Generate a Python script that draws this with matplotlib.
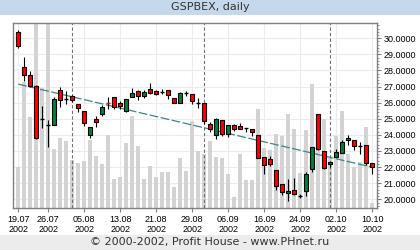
import matplotlib
matplotlib.use("Agg")
import matplotlib.pyplot as plt
from matplotlib.patches import Rectangle
from matplotlib.ticker import MultipleLocator
from matplotlib.transforms import blended_transform_factory

# ---------------- data ----------------
opens = [30.41, 28.24, 27.72, 27.04, 24.97, 24.62, 24.62, 26.79, 26.21, 26.42,
         25.92, 25.49, 24.00, 24.99, 25.30, 26.00, 26.34, 26.00, 25.51, 26.36,
         26.73, 26.42, 26.85, 26.73, 26.69, 26.79, 26.27, 25.96, 26.63, 26.56,
         26.00, 26.00, 24.66, 24.00, 24.93, 24.06, 24.62, 24.55, 24.41, 24.37,
         24.00, 22.63, 22.53, 21.82, 20.95, 20.37, 20.58, 20.21, 20.52, 21.88,
         25.30, 23.00, 22.19, 22.63, 22.90, 23.68, 23.68, 23.31, 23.37, 22.24]
highs = [30.50, 28.86, 27.97, 27.10, 25.82, 24.93, 26.38, 27.00, 26.73, 26.48,
         25.92, 25.49, 24.47, 25.20, 25.86, 26.38, 26.38, 26.13, 26.23, 26.94,
         26.79, 26.79, 27.25, 26.79, 26.83, 26.79, 26.27, 26.69, 26.75, 26.56,
         26.27, 26.00, 24.82, 25.03, 24.93, 24.62, 24.68, 24.76, 24.45, 24.37,
         24.00, 22.63, 22.69, 21.82, 20.95, 21.26, 21.30, 20.31, 21.68, 23.27,
         25.30, 23.00, 22.32, 23.10, 23.68, 24.00, 23.68, 23.54, 23.37, 22.24]
lows = [29.38, 27.35, 27.00, 23.75, 24.41, 23.23, 24.62, 25.76, 25.90, 26.02,
        25.40, 24.55, 23.80, 24.51, 25.18, 25.61, 25.61, 25.61, 25.45, 26.36,
        26.17, 26.31, 26.52, 26.45, 26.54, 26.21, 25.96, 25.96, 26.44, 25.94,
        25.69, 24.68, 24.20, 23.75, 23.95, 23.85, 24.27, 24.37, 24.16, 23.93,
        22.55, 21.55, 22.07, 20.58, 20.27, 19.90, 20.27, 20.10, 20.21, 21.68,
        23.06, 21.90, 22.03, 22.63, 22.90, 23.37, 23.06, 22.82, 22.13, 21.55]
closes = [29.52, 27.72, 27.04, 23.79, 24.97, 24.62, 26.23, 26.17, 26.21, 26.17,
          25.67, 24.72, 24.47, 24.82, 25.73, 25.98, 25.71, 25.80, 26.23, 26.63,
          26.44, 26.67, 26.60, 26.52, 26.69, 26.48, 25.96, 26.63, 26.63, 26.11,
          26.00, 24.89, 24.37, 24.97, 24.06, 24.62, 24.37, 24.37, 24.41, 24.16,
          22.59, 22.13, 22.17, 20.83, 20.46, 20.52, 20.31, 20.21, 21.55, 23.27,
          23.10, 21.93, 22.32, 22.96, 23.58, 23.83, 23.33, 23.31, 22.24, 22.01]
volumes = [41, 126, 91, 190, 120, 190, 59, 70, 67, 48,
           45, 47, 68, 52, 44, 73, 29, 31, 65, 92,
           62, 29, 42, 31, 36, 36, 21, 50, 37, 87,
           57, 54, 67, 51, 50, 34, 11, 54, 28, 28,
           99, 60, 58, 74, 72, 94, 79, 35, 78, 124,
           60, 89, 50, 72, 97, 54, 41, 46, 81, 5]
trend_values = [27.15, 21.99]          # regression line at first / last day
tick_days = [0, 5, 11, 17, 23, 29, 35, 41, 47, 53, 59]
tick_labels = ["19.07\n2002", "26.07\n2002", "05.08\n2002", "13.08\n2002",
               "21.08\n2002", "29.08\n2002", "06.09\n2002", "16.09\n2002",
               "24.09\n2002", "02.10\n2002", "10.10\n2002"]
month_starts = [9, 31, 52]
price_levels = list(range(20, 31))
title = "GSPBEX, daily"
footer = "© 2000-2002, Profit House - www.PHnet.ru"

# ---------------- figure ----------------
W, H = 420, 250
fig = plt.figure(figsize=(W / 100, H / 100), dpi=100)
fig.patch.set_facecolor("white")
fig.patches.append(Rectangle((0, 1 - 15 / H), 1, 15 / H, transform=fig.transFigure,
                             facecolor="#c6d9ec", edgecolor="none", zorder=0))
fig.patches.append(Rectangle((0, 0), 1, 15 / H, transform=fig.transFigure,
                             facecolor="#ececec", edgecolor="none", zorder=0))
fig.text(0.5, 1 - 7.5 / H, title, ha="center", va="center", fontsize=8,
         color="#333333", family="DejaVu Sans")
fig.text(0.5, 7.5 / H, footer, ha="center", va="center", fontsize=8,
         color="#333333", family="DejaVu Sans")

rect = [13.3 / W, 41.7 / H, (376.7 - 13.3) / W, (208.3 - 23.3) / H]
ax_vol = fig.add_axes(rect)
ax = fig.add_axes(rect, sharex=ax_vol)
ax.patch.set_visible(False)
ax_vol.set_facecolor("white")

n = len(closes)
days = list(range(n))

ax.set_xlim(-0.83, 59.73)
ax.set_ylim(19.44, 30.93)
ax_vol.set_ylim(0, 185)

# grid (behind the volume bars)
ax_vol.set_xticks(tick_days)
ax_vol.grid(axis="x", color="#ebebeb", lw=0.8)
ax_vol.set_axisbelow(True)
trans = blended_transform_factory(ax_vol.transAxes, ax.transData)
for lv in price_levels:
    ax_vol.plot([0, 1], [lv, lv], transform=trans, color="#ebebeb", lw=0.8, zorder=0)
ax_vol.set_yticks([])
ax_vol.tick_params(axis="x", length=0, labelbottom=False)
for s in ax_vol.spines.values():
    s.set_visible(False)

# volume
ax_vol.bar(days, volumes, width=0.66, color="#d3d3d3", zorder=2)

# month separators and trend line
for m in month_starts:
    ax.axvline(m, color="#707070", lw=0.8, dashes=(3, 2), zorder=1)
ax.plot([0, n - 1], trend_values, color="#3d8585", lw=0.9, dashes=(7, 2), zorder=2)

# candles
for i, o, h, l, c in zip(days, opens, highs, lows, closes):
    ax.vlines(i, l, h, color="black", lw=0.8, zorder=3)
    if abs(c - o) < 0.05:
        col = "black" if c == o else ("#ff0000" if c < o else "#00803c")
        ax.hlines(c, i - 0.35, i + 0.35, color=col, lw=1.0, zorder=4)
    else:
        col = "#ff0000" if c < o else "#00803c"
        ax.bar(i, abs(c - o), bottom=min(o, c), width=0.7, color=col,
               edgecolor="black", lw=0.8, zorder=4)

# axes styling
for s in ax.spines.values():
    s.set_color("#808080")
    s.set_linewidth(1.0)
ax.yaxis.tick_right()
ax.set_yticks(price_levels)
ax.set_yticklabels([f"{v:.4f}" for v in price_levels])
ax.yaxis.set_minor_locator(MultipleLocator(0.2))
ax.tick_params(axis="y", which="major", length=3, color="#808080", pad=2,
               labelsize=6.5, labelcolor="black")
ax.tick_params(axis="y", which="minor", length=1.5, color="#808080")
ax.set_xticks(tick_days)
ax.set_xticklabels(tick_labels, linespacing=1.05)
ax.tick_params(axis="x", length=3, color="#808080", pad=2, labelsize=6.5,
               labelcolor="black")
for lab in ax.get_xticklabels() + ax.get_yticklabels():
    lab.set_family("Liberation Sans")

fig.savefig("out.png", dpi=100)
